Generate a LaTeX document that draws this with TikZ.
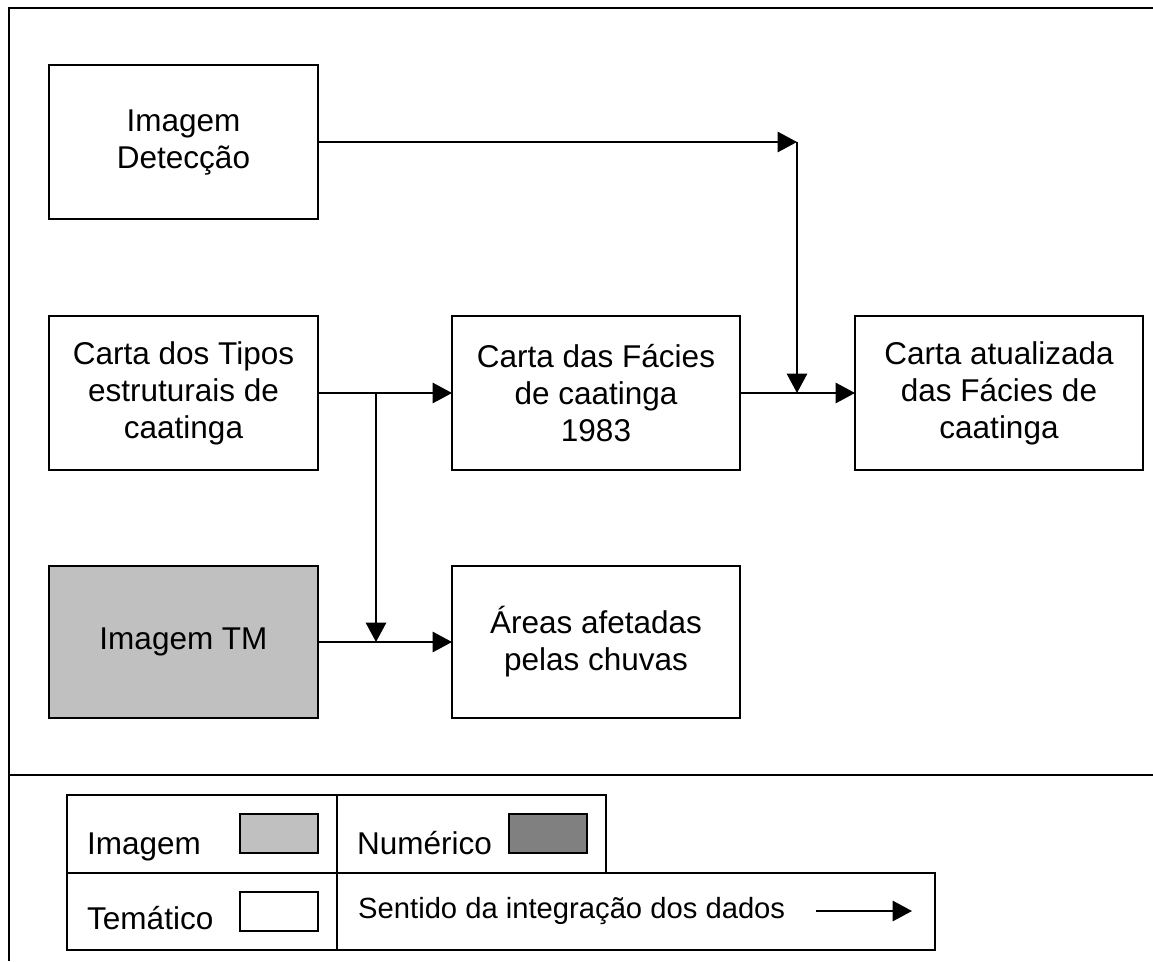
\documentclass[tikz,border=0pt]{standalone}
\usepackage{fontspec}
\setmainfont{Liberation Sans}
\usetikzlibrary{arrows.meta}
\definecolor{imggray}{HTML}{C0C0C0}
\definecolor{numgray}{HTML}{808080}
\tikzset{
  lw/.style={line width=1.7pt},
  mainbox/.style={draw, lw, anchor=north west, align=center, inner sep=0pt, outer sep=0pt,
    font=\fontsize{31.5}{37}\selectfont},
  arr/.style={lw, -{Triangle[length=19.5pt,width=20.5pt]}},
  cell/.style={draw, lw, anchor=north west, inner sep=0pt, outer sep=0pt},
  swatch/.style={draw, line width=1.4pt, anchor=north west, inner sep=0pt, outer sep=0pt,
    minimum width=78pt, minimum height=39pt},
  lgtext/.style={anchor=base west, inner sep=0pt, font=\fontsize{31.5}{37}\selectfont},
  lgsmall/.style={anchor=base west, inner sep=0pt, font=\fontsize{29.2}{34}\selectfont}
}
\begin{document}
\begin{tikzpicture}[x=1pt,y=-1pt]
\useasboundingbox (0,0) rectangle (1153,961);
% frame
\coordinate (fbl) at (9,961);
\coordinate (ftl) at (9,8);
\coordinate (ftr) at (1153,8);
\coordinate (fdl) at (9,775);
\coordinate (fdr) at (1153,775);
\draw[lw] (fbl) -- (ftl) -- (ftr);
\draw[lw] (fdl) -- (fdr);
% boxes
\node[mainbox, minimum width=269pt, minimum height=154pt] (b1) at (49,65) {Imagem\\Detecção};
\node[mainbox, minimum width=269pt, minimum height=154pt] (b2) at (49,316) {Carta dos Tipos\\estruturais de\\caatinga};
\node[mainbox, minimum width=269pt, minimum height=152pt, fill=imggray] (b3) at (49,566) {Imagem TM};
\node[mainbox, minimum width=288pt, minimum height=154pt] (b4) at (452,316) {Carta das Fácies\\de caatinga\\1983};
\node[mainbox, minimum width=288pt, minimum height=154pt] (b5) at (855,316) {Carta atualizada\\das Fácies de\\caatinga};
\node[mainbox, minimum width=288pt, minimum height=152pt] (b6) at (452,566) {Áreas afetadas\\pelas chuvas};
% connectors
\coordinate (j1) at (797,142);
\draw[arr] (b1.east) -- (j1 |- b1.east);
\draw[arr] (j1 |- b1.east) -- (j1 |- b4.east);
\draw[arr] (b2.east) -- (b4.west);
\draw[arr] (b4.east) -- (b5.west);
\coordinate (j2) at (376,392);
\draw[arr] (j2 |- b2.east) -- (j2 |- b3.east);
\draw[arr] (b3.east) -- (b6.west);
% legend
\node[cell, minimum width=270pt, minimum height=78pt] (l1) at (67,795) {};
\node[cell, minimum width=269pt, minimum height=78pt] (l2) at (337,795) {};
\node[cell, minimum width=270pt, minimum height=77pt] (l3) at (67,873) {};
\node[cell, minimum width=598pt, minimum height=77pt] (l4) at (337,873) {};
\node[swatch, fill=imggray] (s1) at (240,814) {};
\node[swatch, fill=numgray] (s2) at (509,814) {};
\node[swatch, fill=white] (s3) at (240,892) {};
\node[lgtext] (t1) at (87,854) {Imagem};
\node[lgtext] (t2) at (357,854) {Numérico};
\node[lgtext] (t3) at (87,929) {Temático};
\node[lgsmall] (t4) at (358,918) {Sentido da integração dos dados};
\coordinate (la) at (816,911);
\coordinate (lb) at (912,911);
\draw[arr] (la) -- (lb);
\end{tikzpicture}
\end{document}
